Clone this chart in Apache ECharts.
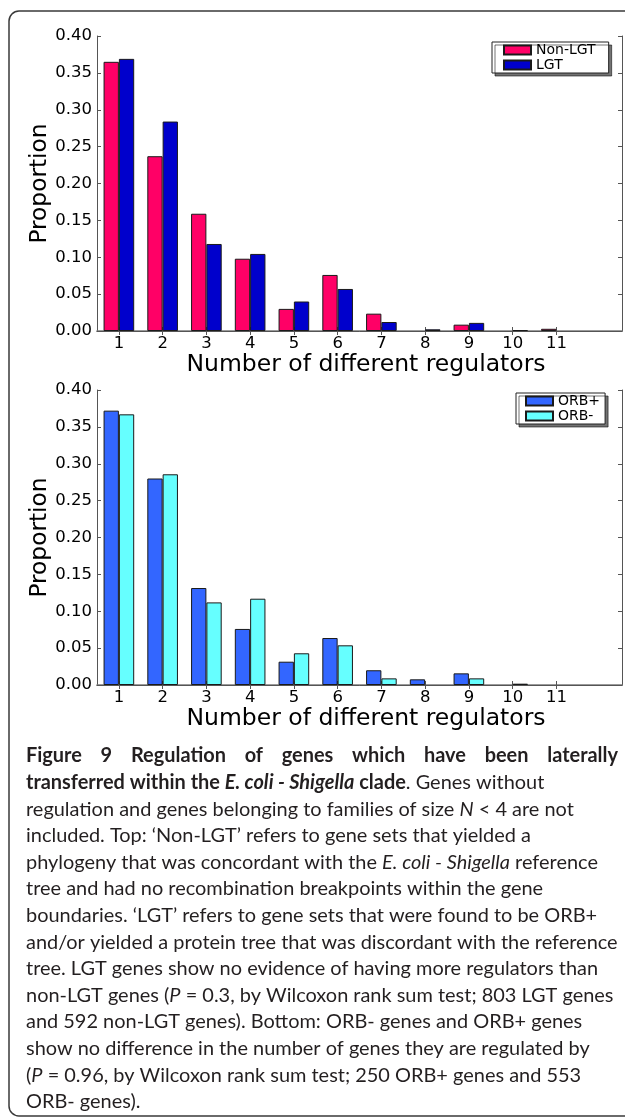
<!DOCTYPE html>
<html><head><meta charset="utf-8">
<script src="https://cdn.jsdelivr.net/npm/echarts@6/dist/echarts.min.js"></script>
<style>html,body{margin:0;padding:0;background:#fff}#c{width:625px;height:1118px}</style>
</head><body><div id="c"></div>
<script>
// ---- data ----
const categories = ['1','2','3','4','5','6','7','8','9','10','11',''];
const nonLGT   = [0.365, 0.237, 0.159, 0.098, 0.030, 0.076, 0.0235, null,   0.0086, null,   0.003, null];
const LGT      = [0.369, 0.284, 0.118, 0.1045,0.040, 0.057, 0.0122, 0.0023, 0.011,  0.0013, null,  null];
const orbPlus  = [0.372, 0.280, 0.1315,0.076, 0.0316,0.0637,0.020,  0.0077, 0.0158, null,   null,  null];
const orbMinus = [0.367, 0.2857,0.112, 0.117, 0.043, 0.0538,0.009,  null,   0.009,  0.0018, null,  null];
const yMin = 0, yMax = 0.40, yStep = 0.05;
const xTitle = 'Number of different regulators';
const yTitle = 'Proportion';
const captionLines = [
  [['b','Figure 9 Regulation of genes which have been laterally']],
  [['b','transferred within the '],['bi','E. coli - Shigella'],['b',' clade'],['n','. Genes without']],
  [['n','regulation and genes belonging to families of size '],['i','N'],['n',' < 4 are not']],
  [['n','included. Top: \u2018Non-LGT\u2019 refers to gene sets that yielded a']],
  [['n','phylogeny that was concordant with the '],['i','E. coli - Shigella'],['n',' reference']],
  [['n','tree and had no recombination breakpoints within the gene']],
  [['n','boundaries. \u2018LGT\u2019 refers to gene sets that were found to be ORB+']],
  [['n','and/or yielded a protein tree that was discordant with the reference']],
  [['n','tree. LGT genes show no evidence of having more regulators than']],
  [['n','non-LGT genes ('],['i','P'],['n',' = 0.3, by Wilcoxon rank sum test; 803 LGT genes']],
  [['n','and 592 non-LGT genes). Bottom: ORB- genes and ORB+ genes']],
  [['n','show no difference in the number of genes they are regulated by']],
  [['n','('],['i','P'],['n',' = 0.96, by Wilcoxon rank sum test; 250 ORB+ genes and 553']],
  [['n','ORB- genes).']]
];

// ---- layout helpers ----
const FF = 'DejaVu Sans';
const grids = [
  {left: 97, right: 3, top: 36, height: 295},
  {left: 97, right: 3, top: 390, height: 295}
];
function xAxesFor(gi) {
  return [
    {type:'category', gridIndex: gi, data: categories, position:'bottom',
     axisLine:{show:true, lineStyle:{color:'#7a7a7a', width:1.5}},
     axisTick:{show:true, inside:true, length:4, alignWithLabel:true, lineStyle:{color:'#555'},
               interval:(i,v)=>v!==''},
     axisLabel:{color:'#000', fontFamily:FF, fontSize:16.5, margin:4, interval:0},
     splitLine:{show:false},
     name:xTitle, nameLocation:'middle', nameGap:17,
     nameTextStyle:{color:'#000', fontFamily:FF, fontSize:23.5, padding:[0,0,0,13]}},
    {type:'category', gridIndex: gi, data: categories, position:'top',
     axisLine:{show:true, lineStyle:{color:'#555', width:1}},
     axisTick:{show:true, inside:true, length:4, alignWithLabel:true, lineStyle:{color:'#555'},
               interval:(i,v)=>v!==''},
     axisLabel:{show:false}, splitLine:{show:false}}
  ];
}
function yAxesFor(gi) {
  return [
    {type:'value', gridIndex: gi, min:yMin, max:yMax, interval:yStep, position:'left',
     axisLine:{show:true, lineStyle:{color:'#555', width:1}},
     axisTick:{show:true, inside:true, length:4, lineStyle:{color:'#555'}},
     axisLabel:{color:'#000', fontFamily:FF, fontSize:16.5, margin:5, formatter:v=>v.toFixed(2)},
     splitLine:{show:false},
     name:yTitle, nameLocation:'middle', nameGap:46, nameRotate:90, nameMoveOverlap:false,
     nameTextStyle:{color:'#000', fontFamily:FF, fontSize:23.3}},
    {type:'value', gridIndex: gi, min:yMin, max:yMax, interval:yStep, position:'right',
     axisLine:{show:true, lineStyle:{color:'#555', width:1}},
     axisTick:{show:true, inside:true, length:4, lineStyle:{color:'#555'}},
     axisLabel:{show:false}, splitLine:{show:false}}
  ];
}
function barSeries(name, data, color, gi) {
  return {type:'bar', name, data, xAxisIndex: gi*2, yAxisIndex: gi*2,
    barWidth:'35%', barGap:'0%', itemStyle:{color, borderColor:'#1a1a1a', borderWidth:1},
    emphasis:{disabled:true}, animation:false};
}
function legendFor(names, left, top, padding) {
  return {data:names, orient:'vertical', left, top, padding,
    itemWidth:27, itemHeight:9, itemGap:1, icon:'rect',
    backgroundColor:'#fff', borderColor:'#222', borderWidth:1, borderRadius:0,
    shadowColor:'rgba(0,0,0,0.55)', shadowBlur:0, shadowOffsetX:3, shadowOffsetY:3,
    textStyle:{color:'#000', fontFamily:FF, fontSize:14, lineHeight:14, padding:[0,0,0,0]},
    itemTextGap:10, selectedMode:false};
}

// ---- caption ----
const CF = 'Lato';
const ctx = document.createElement('canvas').getContext('2d');
const fontOf = (st, fs) => ({n:'', b:'bold ', i:'italic ', bi:'italic bold '}[st]) + fs + 'px ' + CF;
function tw(font, t){ ctx.font = font; return ctx.measureText(t).width; }
const capLeft = 26, capRight = 618, capTop = 756, capStep = 26.6;
const capFs = 20 * (capRight - capLeft) / tw('20px ' + CF, captionLines[7][0][1]);
const capEls = [];
captionLines.forEach((segs, li) => {
  const y = capTop + li * capStep;
  if (li === 0) {
    const words = segs[0][1].split(' ');
    const f = fontOf('b', capFs);
    const ws = words.map(wd => tw(f, wd));
    const gap = (capRight - capLeft - ws.reduce((a,b)=>a+b,0)) / (words.length - 1);
    let x = capLeft;
    words.forEach((wd, k) => {
      capEls.push({type:'text', x, y, silent:true,
        style:{text:wd, font:f, fill:'#231f20', textAlign:'left', textVerticalAlign:'middle', align:'left', verticalAlign:'middle'}});
      x += ws[k] + gap;
    });
  } else {
    let x = capLeft;
    segs.forEach(([st, t]) => {
      const f = fontOf(st, capFs);
      capEls.push({type:'text', x, y, silent:true,
        style:{text:t, font:f, fill:'#231f20', textAlign:'left', textVerticalAlign:'middle', align:'left', verticalAlign:'middle'}});
      x += tw(f, t);
    });
  }
});

const chart = echarts.init(document.getElementById('c'), null, {renderer:'canvas'});
chart.setOption({
  animation:false,
  backgroundColor:'#fff',
  grid: grids,
  xAxis: [...xAxesFor(0), ...xAxesFor(1)],
  yAxis: [...yAxesFor(0), ...yAxesFor(1)],
  legend: [
    legendFor(['Non-LGT','LGT'], 492, 42, [1,13,1,11]),
    legendFor(['ORB+','ORB-'], 516, 393, [1,5,1,9])
  ],
  series: [
    barSeries('Non-LGT', nonLGT, '#ff0066', 0),
    barSeries('LGT', LGT, '#0000cc', 0),
    barSeries('ORB+', orbPlus, '#3366ff', 1),
    barSeries('ORB-', orbMinus, '#66ffff', 1)
  ],
  graphic: [
    {type:'rect', silent:true, z:-1, shape:{x:9, y:11, width:640, height:1105, r:10},
     style:{fill:'none', stroke:'#3a3a3a', lineWidth:1.5}},
    ...capEls
  ]
});
</script></body></html>
